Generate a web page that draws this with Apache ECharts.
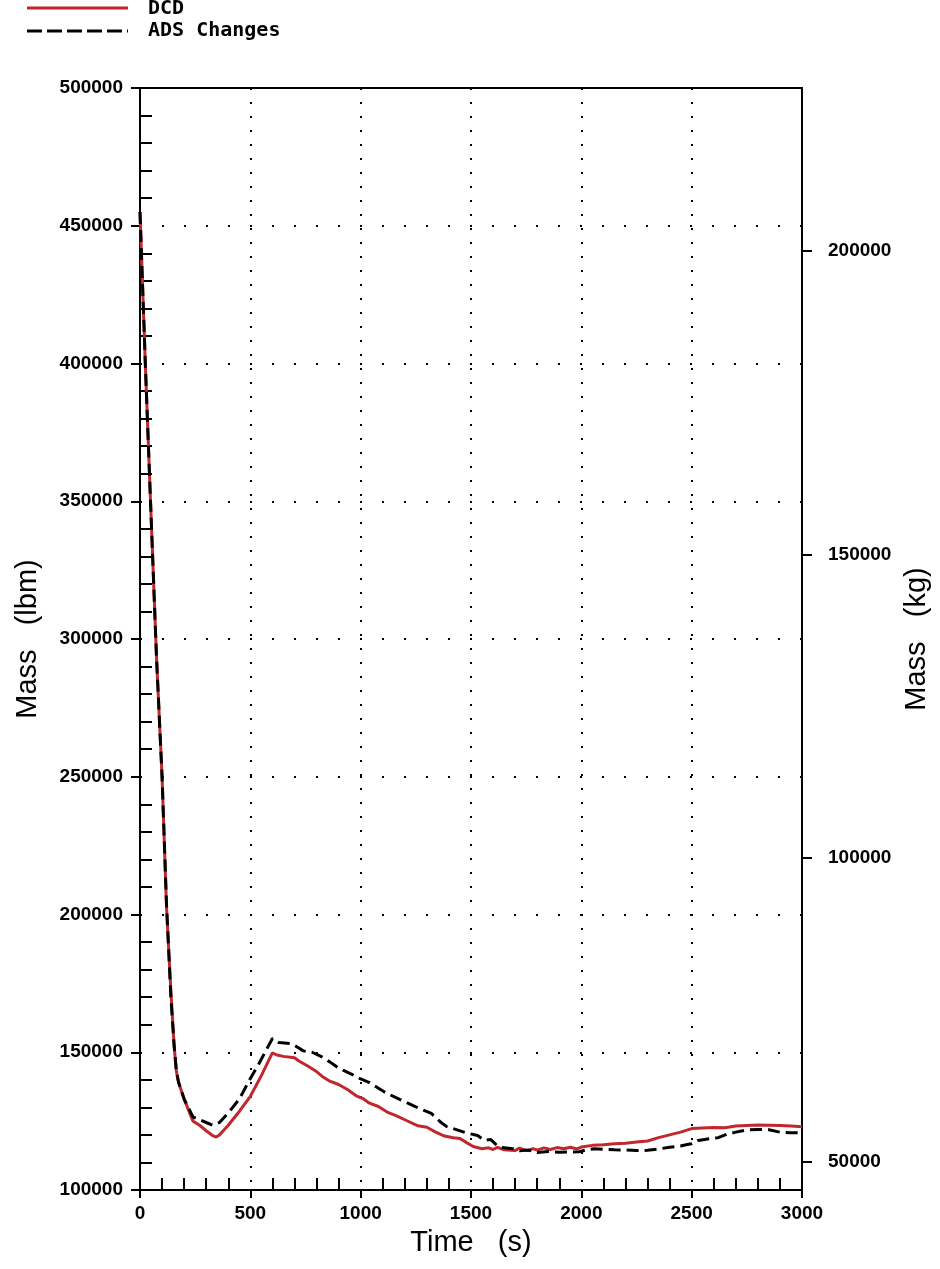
<!DOCTYPE html>
<html>
<head>
<meta charset="utf-8">
<script src="https://cdn.jsdelivr.net/npm/echarts@6/dist/echarts.min.js"></script>
<style>
html,body{margin:0;padding:0;background:#fff;}
#chart{width:940px;height:1269px;}
</style>
</head>
<body>
<div id="chart"></div>
<script>
// ---- data (time in s, mass in lbm) ----
const dcdTime = [0,10,25,50,75,100,120,140,155,165,175,200,240,270,300,330,345,360,400,450,500,550,580,600,620,650,700,720,760,800,830,860,900,940,980,1010,1040,1080,1120,1160,1200,1240,1260,1300,1340,1380,1420,1450,1480,1510,1550,1580,1600,1620,1650,1680,1700,1720,1740,1760,1780,1800,1830,1860,1890,1920,1950,1980,2000,2050,2100,2150,2200,2250,2300,2350,2400,2450,2500,2550,2600,2650,2700,2750,2800,2850,2900,2950,3000];
const dcdMass = [455000,432000,398000,345000,293000,250000,203000,172000,152000,143000,139000,133000,125000,123500,121500,119700,119200,120000,123500,128500,134000,141500,146500,149800,149000,148500,148000,146800,145000,143000,141000,139500,138300,136500,134200,133200,131500,130300,128300,127000,125500,124000,123300,122800,121000,119600,119000,118700,117200,115800,115000,115300,114700,115500,114600,114400,114300,115200,114600,114300,115000,114500,115300,114700,115400,115000,115500,114900,115600,116200,116400,116800,117000,117400,117800,119000,120000,121000,122300,122500,122700,122600,123200,123400,123600,123500,123400,123200,123000];

const adsTime = [0,10,25,50,75,100,120,140,155,165,175,200,240,270,300,330,360,400,450,500,540,570,600,630,680,700,740,780,820,860,890,920,960,1000,1040,1070,1110,1160,1200,1250,1290,1320,1360,1390,1430,1480,1530,1560,1590,1620,1650,1690,1720,1760,1800,1850,1900,1950,1990,2020,2060,2100,2150,2200,2250,2300,2350,2400,2450,2480,2500,2530,2580,2620,2660,2700,2750,2800,2850,2900,2950,3000];
const adsMass = [455000,432000,398000,345000,293000,250000,204000,170000,152000,143000,139000,133000,126500,125500,124500,123500,124500,128000,133000,140500,146000,150500,155000,153500,153200,152500,150500,150000,148500,146500,144800,143500,142000,140300,139000,137500,135500,133500,132000,130200,128800,127800,124800,123000,122000,120700,119800,118000,118300,116000,115300,115000,114200,114500,113600,114000,113700,113800,113900,114500,115000,114800,114600,114500,114300,114400,114900,115500,116000,116500,116800,118000,118600,119000,120300,121000,121800,122000,121900,121000,120800,120800];

const seriesNames = ['DCD', 'ADS Changes'];
const xTicks = [0,500,1000,1500,2000,2500,3000];
const yTicksLbm = [100000,150000,200000,250000,300000,350000,400000,450000,500000];
const yTicksKg = [50000,100000,150000,200000];
const LBM_PER_KG = 2.20462;

// minor tick positions (between major ticks)
const xMinor = [];
for (let v = 100; v < 3000; v += 100) if (v % 500 !== 0) xMinor.push(v);
const yMinor = [];
for (let v = 110000; v < 500000; v += 10000) if (v % 50000 !== 0) yMinor.push(v);

const pair = (t, m) => t.map((x, i) => [x, m[i]]);
const plain = v => String(Math.round(v));

const RED = '#c0282d';
const labelFont = {fontFamily: "'Liberation Sans',Arial,sans-serif", fontWeight: 'bold', fontSize: 19, color: '#000'};
const nameFont = {fontFamily: "'Liberation Sans',Arial,sans-serif", fontSize: 29, color: '#000'};
const legendFont = "bold 20px 'DejaVu Sans Mono', monospace";

const chart = echarts.init(document.getElementById('chart'), null, {renderer: 'canvas'});
chart.setOption({
  animation: false,
  backgroundColor: '#fff',
  grid: {left: 140, right: 138, top: 88, bottom: 79, outerBoundsMode: 'none', containLabel: false,
         show: true, borderColor: '#000', borderWidth: 2, backgroundColor: 'transparent'},
  graphic: [
    {type: 'line', shape: {x1: 27, y1: 8, x2: 128, y2: 8}, style: {stroke: RED, lineWidth: 3}},
    {type: 'text', x: 148, y: 9, style: {text: seriesNames[0], font: legendFont, fill: '#000', verticalAlign: 'middle'}},
    {type: 'line', shape: {x1: 27, y1: 31, x2: 128, y2: 31}, style: {stroke: '#000', lineWidth: 3, lineDash: [15, 5]}},
    {type: 'text', x: 148, y: 31, style: {text: seriesNames[1], font: legendFont, fill: '#000', verticalAlign: 'middle'}}
  ],
  xAxis: [
    {
      type: 'value', min: 0, max: 3000, interval: 500, position: 'bottom',
      name: 'Time   (s)', nameLocation: 'middle', nameGap: 38, nameTextStyle: nameFont,
      axisLine: {onZero: false, lineStyle: {color: '#000', width: 2}},
      axisTick: {show: true, inside: false, length: 8, lineStyle: {color: '#000', width: 2}},
      axisLabel: Object.assign({margin: 14, formatter: plain}, labelFont),
      splitLine: {show: true, lineStyle: {color: '#000', width: 2, type: [2, 12]}}
    },
    {
      type: 'value', min: 0, max: 3000, position: 'bottom',
      axisLine: {show: false, onZero: false},
      axisTick: {show: true, inside: true, length: 12, customValues: xMinor, lineStyle: {color: '#000', width: 2}},
      axisLabel: {show: false},
      splitLine: {show: false}
    }
  ],
  yAxis: [
    {
      type: 'value', min: 100000, max: 500000, interval: 50000, position: 'left',
      name: 'Mass   (lbm)', nameLocation: 'middle', nameGap: 98, nameRotate: 90, nameTextStyle: nameFont,
      axisLine: {onZero: false, lineStyle: {color: '#000', width: 2}},
      axisTick: {show: true, inside: false, length: 9, lineStyle: {color: '#000', width: 2}},
      axisLabel: Object.assign({margin: 17, formatter: plain}, labelFont),
      splitLine: {show: true, lineStyle: {color: '#000', width: 2, type: [2, 20]}}
    },
    {
      type: 'value', min: 100000, max: 500000, position: 'left',
      axisLine: {show: false, onZero: false},
      axisTick: {show: true, inside: true, length: 12, customValues: yMinor, lineStyle: {color: '#000', width: 2}},
      axisLabel: {show: false},
      splitLine: {show: false}
    },
    {
      type: 'value', min: 100000 / LBM_PER_KG, max: 500000 / LBM_PER_KG, position: 'right',
      name: 'Mass   (kg)', nameLocation: 'middle', nameGap: 100, nameRotate: 90, nameTextStyle: nameFont,
      axisLine: {onZero: false, lineStyle: {color: '#000', width: 2}},
      axisTick: {show: true, inside: false, length: 10, customValues: yTicksKg, lineStyle: {color: '#000', width: 2}},
      axisLabel: Object.assign({margin: 26, customValues: yTicksKg, formatter: plain}, labelFont),
      splitLine: {show: false}
    }
  ],
  series: [
    {
      name: seriesNames[0], type: 'line', xAxisIndex: 0, yAxisIndex: 0,
      data: pair(dcdTime, dcdMass), symbol: 'none', showSymbol: false, z: 3,
      lineStyle: {color: RED, width: 3},
      itemStyle: {color: RED}
    },
    {
      name: seriesNames[1], type: 'line', xAxisIndex: 0, yAxisIndex: 0,
      data: pair(adsTime, adsMass), symbol: 'none', showSymbol: false, z: 4,
      lineStyle: {color: '#000', width: 3, type: [12, 6]},
      itemStyle: {color: '#000'}
    }
  ]
});
</script>
</body>
</html>
